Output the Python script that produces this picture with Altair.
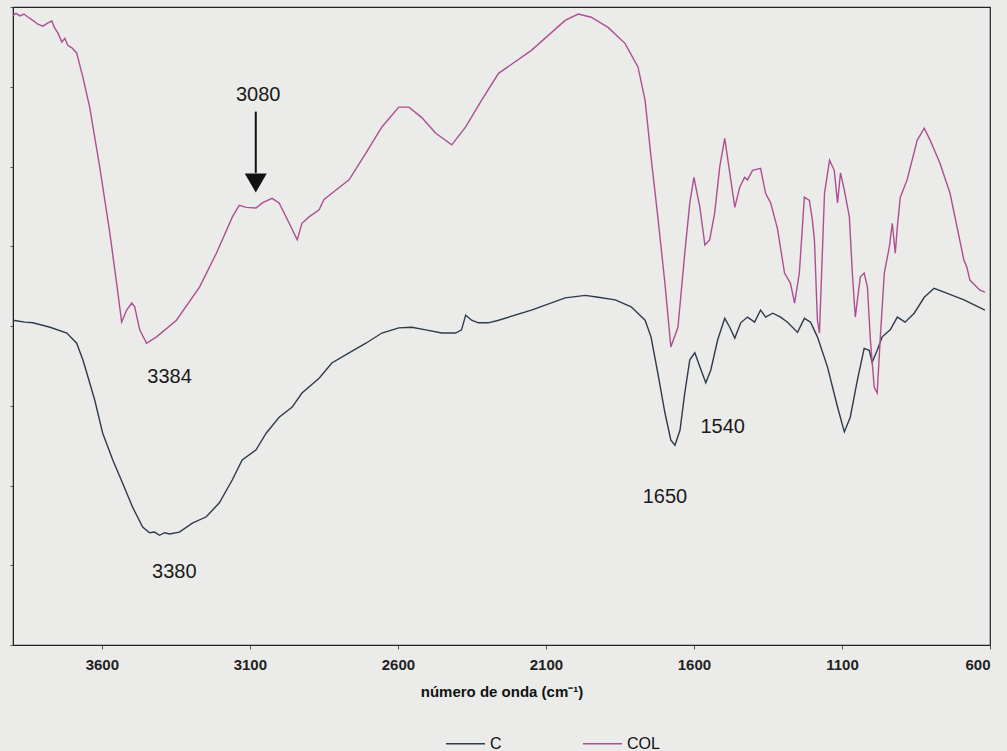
import altair as alt
import pandas as pd

# ---- data (wavenumber cm-1, transmittance in arbitrary %) ----
col_wn = [3900, 3890, 3876, 3863, 3849, 3833, 3816, 3799, 3782, 3769, 3759, 3748, 3735, 3725,
          3715, 3701, 3685, 3664, 3641, 3607, 3573, 3550, 3533, 3516, 3499, 3489, 3472, 3449,
          3415, 3348, 3270, 3213, 3159, 3136, 3112, 3079, 3058, 3025, 3001, 2967, 2940, 2924,
          2900, 2866, 2850, 2823, 2765, 2708, 2654, 2597, 2563, 2520, 2472, 2418, 2371, 2317,
          2260, 2149, 2035, 1991, 1947, 1890, 1833, 1789, 1765, 1745, 1722, 1698, 1678, 1654,
          1631, 1614, 1600, 1580, 1563, 1547, 1530, 1513, 1496, 1479, 1462, 1445, 1429, 1419,
          1402, 1375, 1358, 1341, 1318, 1294, 1274, 1260, 1244, 1227, 1210, 1200, 1193, 1183,
          1176, 1159, 1142, 1126, 1115, 1105, 1092, 1075, 1065, 1055, 1038, 1025, 1014, 1004,
          991, 981, 971, 957, 940, 930, 920, 913, 903, 880, 846, 822, 802, 769, 735, 688, 678,
          668, 634, 617]
col_t = [98.7, 99.0, 98.6, 98.9, 98.4, 97.9, 97.3, 97.0, 97.5, 97.8, 96.7, 95.9, 94.5, 95.1,
         94.0, 93.6, 92.8, 89.0, 84.3, 74.9, 64.6, 56.7, 50.6, 52.5, 53.6, 53.0, 49.4, 47.3,
         48.3, 50.9, 56.1, 61.4, 67.1, 68.9, 68.6, 68.5, 69.3, 70.0, 69.3, 66.1, 63.5, 66.1,
         67.1, 68.2, 69.8, 70.8, 72.9, 77.1, 81.2, 84.3, 84.3, 82.7, 80.2, 78.4, 81.2, 85.4,
         89.6, 93.2, 97.9, 98.9, 98.4, 96.8, 94.3, 90.6, 85.4, 76.5, 67.1, 56.7, 46.7, 49.8,
         61.4, 69.3, 73.3, 68.6, 62.7, 63.5, 67.7, 74.9, 79.4, 74.0, 68.6, 71.8, 73.3, 72.9,
         74.4, 74.7, 70.8, 69.3, 65.3, 58.3, 56.7, 53.6, 58.3, 70.2, 69.7, 66.6, 63.5, 50.9,
         48.9, 70.8, 76.0, 74.4, 69.3, 74.0, 71.3, 67.1, 58.3, 51.4, 57.7, 58.3, 56.1, 47.8,
         40.4, 39.5, 47.8, 58.3, 62.4, 66.1, 61.4, 65.5, 70.2, 72.9, 79.1, 81.0, 79.1, 75.5,
         70.8, 60.3, 59.2, 57.2, 55.6, 55.3]

c_wn = [3900, 3860, 3833, 3775, 3718, 3685, 3664, 3641, 3624, 3597, 3563, 3530, 3496, 3462,
        3439, 3422, 3405, 3388, 3371, 3338, 3294, 3247, 3203, 3159, 3126, 3079, 3045, 3001,
        2957, 2924, 2866, 2823, 2765, 2708, 2654, 2597, 2553, 2506, 2452, 2405, 2385, 2371,
        2351, 2328, 2294, 2260, 2149, 2035, 1967, 1923, 1866, 1812, 1765, 1745, 1722, 1698,
        1678, 1664, 1647, 1631, 1614, 1597, 1580, 1560, 1543, 1520, 1496, 1479, 1462, 1442,
        1419, 1395, 1375, 1358, 1334, 1307, 1284, 1250, 1227, 1206, 1183, 1149, 1115, 1092,
        1072, 1048, 1025, 1008, 998, 981, 964, 937, 913, 887, 856, 822, 789, 755, 688, 617]
c_t = [50.9, 50.6, 50.5, 49.8, 48.9, 47.3, 44.7, 41.1, 38.4, 33.2, 29.0, 25.4, 21.6, 18.5,
       17.6, 17.7, 17.2, 17.6, 17.4, 17.7, 19.1, 20.1, 22.3, 25.9, 29.0, 30.6, 33.2, 35.7,
       37.3, 39.5, 41.8, 44.2, 45.8, 47.3, 48.9, 49.7, 49.8, 49.4, 48.9, 48.9, 49.4, 51.7,
       50.9, 50.5, 50.5, 50.9, 52.5, 54.4, 54.8, 54.5, 54.1, 53.0, 50.9, 48.3, 42.6, 36.4,
       32.1, 31.3, 33.7, 39.5, 44.7, 45.8, 43.6, 41.1, 43.1, 47.8, 51.2, 49.8, 48.1, 50.5,
       51.4, 50.6, 52.5, 51.4, 52.0, 51.4, 50.6, 49.0, 51.2, 50.6, 48.3, 43.6, 37.3, 33.4,
       35.7, 41.5, 46.5, 46.2, 44.3, 46.2, 48.3, 49.4, 51.4, 50.6, 52.0, 54.5, 55.9, 55.3,
       54.1, 52.5]

series_names = ["C", "COL"]
series_colors = ["#2e3b4c", "#ad4f92"]

x_ticks = [3600, 3100, 2600, 2100, 1600, 1100, 600]

ann_text = ["3080", "3384", "3380", "1650", "1540"]
ann_wn = [3072, 3371, 3355, 1698, 1503]
ann_t = [86.2, 42.0, 11.4, 23.2, 34.2]

arrow_wn = [3080]
arrow_top = [83.6]
arrow_bottom = [74.0]
arrow_head = [72.4]

# ---- tables ----
spec_df = pd.concat([
    pd.DataFrame({"serie": "C", "wn": c_wn, "T": c_t, "k": range(len(c_wn))}),
    pd.DataFrame({"serie": "COL", "wn": col_wn, "T": col_t, "k": range(len(col_wn))}),
], ignore_index=True)
ann_df = pd.DataFrame({"label": ann_text, "wn": ann_wn, "T": ann_t})
arrow_df = pd.DataFrame({"wn": arrow_wn, "top": arrow_top, "bottom": arrow_bottom,
                         "head": arrow_head})

xscale = alt.Scale(domain=[600, 3900], reverse=True, nice=False, zero=False)
yscale = alt.Scale(domain=[0, 100], nice=False, zero=False)

lines = alt.Chart(spec_df).mark_line(strokeWidth=1.4, interpolate="linear").encode(
    x=alt.X("wn:Q", scale=xscale,
            axis=alt.Axis(values=x_ticks, format="d", title="número de onda (cm⁻¹)",
                          grid=False,
                          labelFont="Liberation Sans", labelFontWeight="bold",
                          labelFontSize=15, labelColor="#222", labelPadding=8,
                          tickSize=4, tickColor="#555", domainColor="#222",
                          titleFont="Liberation Sans", titleFontWeight="bold",
                          titleFontSize=15, titleColor="#111", titlePadding=12)),
    y=alt.Y("T:Q", scale=yscale,
            axis=alt.Axis(values=[0, 12.5, 25, 37.5, 50, 62.5, 75, 87.5, 100],
                          labels=False, title=None, grid=False, tickSize=3,
                          tickColor="#555", domainColor="#222")),
    color=alt.Color("serie:N",
                    scale=alt.Scale(domain=series_names, range=series_colors),
                    legend=alt.Legend(title=None, orient="none", legendX=432, legendY=716,
                                      direction="horizontal", symbolType="stroke",
                                      symbolSize=1521, symbolStrokeWidth=1.5,
                                      labelFont="Liberation Sans", labelFontSize=16,
                                      labelColor="#111", labelOffset=4,
                                      columnPadding=78, padding=0)),
    order="k:Q",
    detail="serie:N",
)

labels = alt.Chart(ann_df).mark_text(font="Liberation Sans", fontSize=20, color="#1a1a1a",
                                     align="center", baseline="middle").encode(
    x=alt.X("wn:Q", scale=xscale),
    y=alt.Y("T:Q", scale=yscale),
    text="label:N",
)

shaft = alt.Chart(arrow_df).mark_rule(color="#111", strokeWidth=2).encode(
    x=alt.X("wn:Q", scale=xscale),
    y=alt.Y("top:Q", scale=yscale),
    y2="bottom:Q",
)
head = alt.Chart(arrow_df).mark_point(shape="triangle-down", filled=True, size=484,
                                      color="#111", opacity=1).encode(
    x=alt.X("wn:Q", scale=xscale),
    y=alt.Y("head:Q", scale=yscale),
)

chart = alt.layer(lines, labels, shaft, head).properties(
    width=977, height=638,
    autosize=alt.AutoSizeParams(type="none"),
    padding={"left": 13, "top": 7, "right": 17, "bottom": 106},
    background="#ebebe9",
).configure_view(stroke="#222", strokeWidth=1.2)

chart.save("out.html", embed_options={"renderer": "svg", "actions": False})
